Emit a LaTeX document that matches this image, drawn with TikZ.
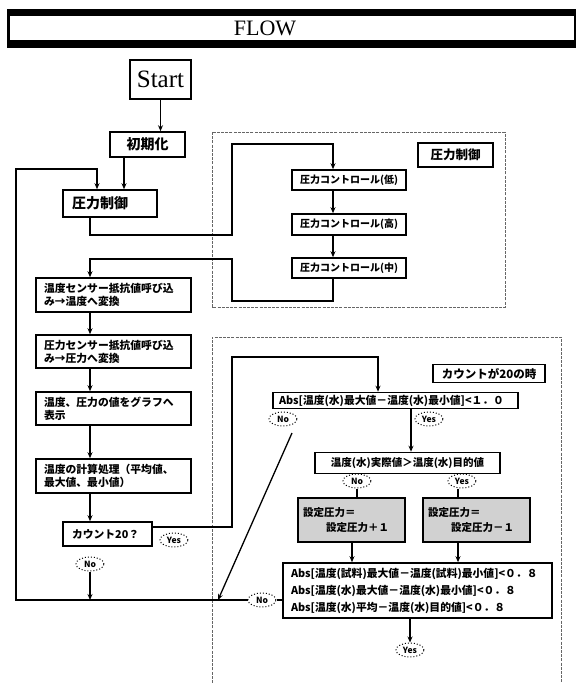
\documentclass[tikz,border=0pt]{standalone}
\usepackage{fontspec}
\newfontfamily\cjk{Noto Sans CJK JP}
\newfontfamily\tms{Liberation Serif}
\usetikzlibrary{shapes.geometric,arrows.meta}
\begin{document}
\begin{tikzpicture}[x=1pt,y=-1pt,
  arr/.style={-{Stealth[length=6pt,width=5pt]}, line width=1.3pt},
  ln/.style={line width=1.3pt},
  bx/.style={draw, line width=1.6pt, inner ysep=1pt, font=\cjk\bfseries\fontsize{10.8}{13}\selectfont},
  gbx/.style={bx, fill=black!18, align=left, inner xsep=5pt, text width=97pt, font=\cjk\bfseries\fontsize{10.5}{15}\selectfont},
  grp/.style={draw=black!60, line width=0.7pt, dash pattern=on 3pt off 1.2pt},
  yn/.style={ellipse, draw, dotted, line width=1pt, fill=white, inner sep=0.3pt, minimum width=28pt, minimum height=14pt, font=\cjk\bfseries\fontsize{8.5}{9}\selectfont}
]
\useasboundingbox (0,0) rectangle (576,683);
% title bar
\fill (7,9) rectangle (576,48);
\fill[white] (10,16) rectangle (574,40);
\node[font=\tms\fontsize{22}{24}\selectfont] (title) at (265,28.5) {FLOW};

% coordinates
\coordinate (colx) at (90,0);
\coordinate (xa) at (124,0);
\coordinate (tlx) at (97,169);
\coordinate (bl) at (16,600);
\coordinate (p1) at (232,235);
\coordinate (p2) at (333,144);
\coordinate (q1) at (232,301);
\coordinate (q2) at (90,259);
\coordinate (r1) at (232,527);
\coordinate (r2) at (378,357);
\coordinate (d1) at (292,433);
\coordinate (d2) at (218,600);
\coordinate (xy) at (411,0);
\coordinate (xg1) at (352,0);
\coordinate (xg2) at (458,0);
\coordinate (xe) at (410,0);

% group frames
\draw[grp] (212,132) rectangle (505,307);
\draw[grp] (212,683) -- (212,337) -- (561,337) -- (561,683);

% left column
\node[draw, line width=1.6pt, minimum width=61pt, minimum height=39pt, inner sep=0pt, font=\tms\fontsize{25}{27}\selectfont] (start) at (160.5,79.5) {Start};
\node[bx, minimum width=75pt, minimum height=25pt, inner sep=0pt, font=\cjk\bfseries\fontsize{14}{16}\selectfont] (init) at (147.5,144.5) {初期化};
\node[bx, minimum height=27pt, inner xsep=9pt, text width=76pt, align=left, font=\cjk\bfseries\fontsize{14}{16}\selectfont] (pc) at (110,203.5) {圧力制御};
\node[bx, align=left, inner xsep=8pt, text width=139pt, minimum height=34pt] (ts) at (113.5,295) {温度センサー抵抗値呼び込\\み→温度へ変換};
\node[bx, align=left, inner xsep=8pt, text width=139pt, minimum height=33pt] (ps) at (113.5,351.5) {圧力センサー抵抗値呼び込\\み→圧力へ変換};
\node[bx, align=left, inner xsep=8pt, text width=139pt, minimum height=33pt] (gr) at (113.5,408.5) {温度、圧力の値をグラフへ\\表示};
\node[bx, align=left, inner xsep=8pt, text width=139pt, minimum height=34pt] (calc) at (113.5,476) {温度の計算処理（平均値、\\最大値、最小値）};
\node[bx, align=left, inner xsep=9pt, text width=71pt, minimum height=24pt] (cnt) at (107.5,534) {カウント20？};

% pressure control group
\node[bx, minimum width=75pt, minimum height=24pt, inner sep=0pt, font=\cjk\bfseries\fontsize{12.5}{14}\selectfont] (lbl1) at (455.5,155) {圧力制御};
\node[bx, minimum width=114pt, minimum height=20pt, inner sep=0pt, font=\cjk\bfseries\fontsize{10}{12}\selectfont] (lo) at (349,180) {圧力コントロール(低)};
\node[bx, minimum width=114pt, minimum height=21pt, inner sep=0pt, font=\cjk\bfseries\fontsize{10}{12}\selectfont] (hi) at (349,224.5) {圧力コントロール(高)};
\node[bx, minimum width=114pt, minimum height=20pt, inner sep=0pt, font=\cjk\bfseries\fontsize{10}{12}\selectfont] (mid) at (349,268) {圧力コントロール(中)};

% count group
\node[bx, minimum width=112pt, minimum height=18pt, inner sep=0pt, font=\cjk\bfseries\fontsize{11.5}{13}\selectfont] (lbl2) at (489,373.5) {カウントが20の時};
\node[bx, minimum width=245pt, minimum height=16pt, inner xsep=6pt, text width=233pt, align=left, font=\cjk\bfseries\fontsize{10.8}{12}\selectfont] (abs1) at (395.5,400.5) {Abs[温度(水)最大値－温度(水)最小値]<１．０};
\node[bx, minimum width=185pt, minimum height=21pt, inner sep=0pt, font=\cjk\bfseries\fontsize{10.5}{12}\selectfont] (cmp) at (407.5,463) {温度(水)実際値＞温度(水)目的値};
\node[gbx, minimum height=44pt] (gl) at (351.5,520) {設定圧力＝\\\hspace*{2.2em}設定圧力＋１};
\node[gbx, minimum height=44pt] (gr2) at (476.5,520) {設定圧力＝\\\hspace*{2.2em}設定圧力－１};
\node[bx, minimum height=55pt, inner xsep=8pt, text width=253pt, align=left, font=\cjk\bfseries\fontsize{10.8}{17}\selectfont] (box3) at (417.5,590.5) {Abs[温度(試料)最大値－温度(試料)最小値]<０．８\\Abs[温度(水)最大値－温度(水)最小値]<０．８\\Abs[温度(水)平均－温度(水)目的値]<０．８};

% yes / no labels
\node[yn] (yc) at (174,540) {Yes};
\node[yn] (nc) at (90,564) {No};
\node[yn] (n1) at (283,419) {No};
\node[yn] (y1) at (429,419) {Yes};
\node[yn] (n2) at (357,481) {No};
\node[yn] (y2) at (462,481) {Yes};
\node[yn] (n3) at (262,600) {No};
\node[yn] (y3) at (410,650) {Yes};

% connectors
\draw[arr] (start.south) -- (start.south |- init.north);
\draw[arr] (init.south -| xa) -- (pc.north -| xa);
\draw[ln] (box3.west |- n3) -- (n3.east);
\draw[arr] (n3.west) -- (bl) |- (tlx) -- (pc.north -| tlx);
\draw[arr] (pc.south -| colx) |- (p1) -- (p1 |- p2) -- (p2) -- (lo.north -| p2);
\draw[arr] (lo.south -| p2) -- (hi.north -| p2);
\draw[arr] (hi.south -| p2) -- (mid.north -| p2);
\draw[arr] (mid.south -| p2) |- (q1) |- (q2) -- (ts.north -| q2);
\draw[arr] (ts.south -| colx) -- (ps.north -| colx);
\draw[arr] (ps.south -| colx) -- (gr.north -| colx);
\draw[arr] (gr.south -| colx) -- (calc.north -| colx);
\draw[arr] (calc.south -| colx) -- (cnt.north -| colx);
\draw[arr] (nc.south) -- (nc.south |- bl);
\draw[arr] (cnt.east |- r1) -- (r1) |- (r2) -- (abs1.north -| r2);
\draw[arr] (d1) -- (d2);
\draw[arr] (abs1.south -| xy) -- (cmp.north -| xy);
\draw[ln] (n2.south) -- (gl.north -| n2);
\draw[ln] (y2.south -| xg2) -- (gr2.north -| xg2);
\draw[arr] (gl.south -| xg1) -- (box3.north -| xg1);
\draw[arr] (gr2.south -| xg2) -- (box3.north -| xg2);
\draw[arr] (box3.south -| xe) -- (y3.north);
\end{tikzpicture}
\end{document}
